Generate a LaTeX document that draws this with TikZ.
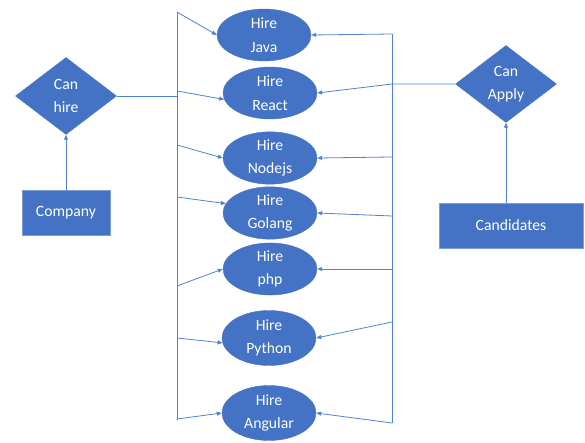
\documentclass[tikz,border=0pt]{standalone}
\usepackage{fontspec}
\setmainfont{Carlito}
\usetikzlibrary{shapes.geometric,arrows.meta}
\definecolor{offblue}{HTML}{4472C4}
\definecolor{lineblue}{HTML}{5082D0}
\tikzset{
  ent/.style={ellipse,fill=offblue,draw=offblue,text=white,minimum width=94pt,minimum height=52pt,inner sep=0pt,align=center,font=\fontsize{15.7}{23.5}\selectfont},
  dia/.style={diamond,fill=offblue,draw=offblue,text=white,minimum width=101pt,minimum height=77pt,inner sep=0pt,align=center,font=\fontsize{15.7}{23.5}\selectfont},
  box/.style={rectangle,fill=offblue,draw=offblue!70,text=white,inner sep=0pt,font=\fontsize{15.7}{18}\selectfont},
  conn/.style={draw=lineblue,line width=0.8pt},
  arr/.style={conn,-{Triangle[length=5pt,width=4pt]}}
}
\begin{document}
\begin{tikzpicture}[x=1pt,y=-1pt]
\useasboundingbox (0,0) rectangle (585,443);
% entities
\node[ent] (java) at (264,35) {Hire\\Java};
\node[ent] (react) at (270,93) {Hire\\React};
\node[ent] (nodejs) at (270,158) {Hire\\Nodejs};
\node[ent] (golang) at (270,213) {Hire\\Golang};
\node[ent] (php) at (270,269) {Hire\\php};
\node[ent, minimum height=55pt] (python) at (269,338) {Hire\\Python};
\node[ent, minimum height=55pt] (angular) at (269,413) {Hire\\Angular};
% diamonds
\node[dia] (canhire) at (66,96) {Can\\hire};
\node[dia] (canapply) at (506,84) {Can\\Apply};
% boxes
\node[box, minimum width=88pt, minimum height=45pt] (company) at (66,212.5) {Company};
\node[box, minimum width=144pt, minimum height=45pt] (candidates) at (511,225.5) {Candidates};
% left bus
\coordinate (ltop) at (177,12);
\coordinate (lbot) at (177,420);
\coordinate (lhire) at (177,96);
\coordinate (l2) at (177,91);
\coordinate (l3) at (177,145);
\coordinate (l4) at (177,197);
\coordinate (l5) at (177,286);
\coordinate (l6) at (177,338);
\coordinate (l7) at (177,419);
\draw[conn] (ltop) -- (lbot);
\draw[conn] (canhire.east) -- (lhire);
\draw[arr] (ltop) -- (java.west);
\draw[arr] (l2) -- (react.188);
\draw[arr] (l3) -- (nodejs.west);
\draw[arr] (l4) -- (golang.168);
\draw[arr] (l5) -- (php.west);
\draw[arr] (l6) -- (python.186);
\draw[arr] (l7) -- (angular.west);
% right bus
\coordinate (rtop) at (392,34);
\coordinate (rbot) at (392,423);
\coordinate (rapply) at (392,84);
\coordinate (r3) at (392,157);
\coordinate (r4) at (392,216);
\coordinate (r5) at (392,269);
\coordinate (r6) at (392,322);
\draw[conn] (rtop) -- (rbot);
\draw[arr] (rtop) -- (java.east);
\draw[arr] (canapply.west) -- (rapply) -- (react.east);
\draw[arr] (r3) -- (nodejs.east);
\draw[arr] (r4) -- (golang.east);
\draw[arr] (r5) -- (php.east);
\draw[arr] (r6) -- (python.east);
\draw[arr] (rbot) -- (angular.east);
% vertical arrows
\draw[arr] (company.north) -- (canhire.south);
\draw[arr] (candidates.north -| canapply.south) -- (canapply.south);
\end{tikzpicture}
\end{document}
